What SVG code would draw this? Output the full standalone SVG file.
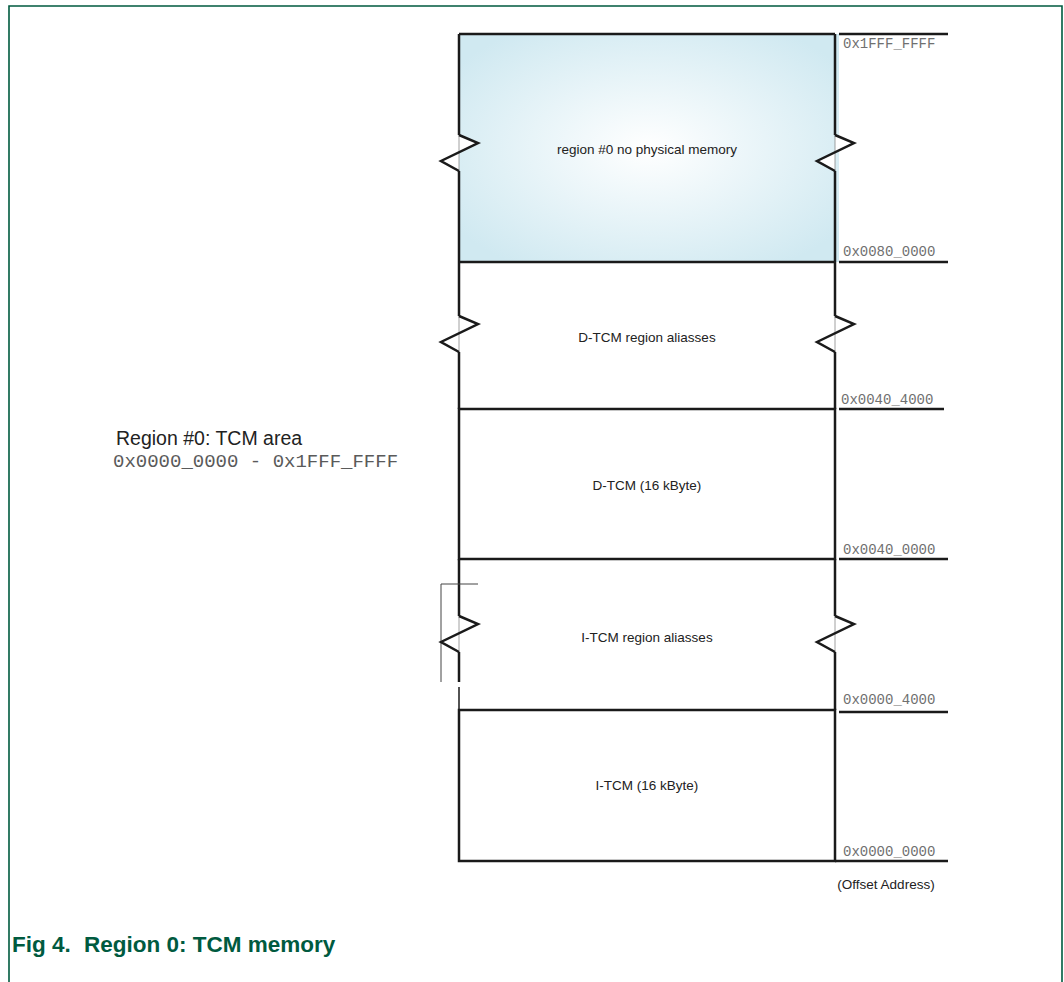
<svg xmlns="http://www.w3.org/2000/svg" xmlns:xlink="http://www.w3.org/1999/xlink" width="1064" height="982" viewBox="0 0 1064 982">
  <style>
    .edge { stroke: #1a1a1a; stroke-width: 2.5; fill: none; }
    .tick { stroke: #1a1a1a; stroke-width: 2.5; fill: none; }
    .thin { stroke: #444; stroke-width: 1; fill: none; }
    .frame { stroke: #005a3f; stroke-width: 1.6; fill: none; }
    .lbl { font-family: "Liberation Sans", Arial, sans-serif; font-size: 13.5px; fill: #222; text-anchor: middle; }
    .addr { font-family: "Liberation Mono", "Courier New", monospace; font-size: 14px; fill: #707070; }
    .title { font-family: "Liberation Sans", Arial, sans-serif; font-size: 22.5px; font-weight: bold; fill: #005a3f; }
  </style>
  <defs>
    <radialGradient id="haze" cx="0.5" cy="0.5" r="0.62">
      <stop offset="0" stop-color="#ffffff"/>
      <stop offset="1" stop-color="#d0e9f1"/>
    </radialGradient>
    <!-- break mark drawn across a vertical edge -->
    <g id="brk">
      <path d="M0,0 L19,8 L-18,26 L0,36 Z" fill="#ffffff" stroke="none"/>
      <line x1="0" y1="0" x2="0" y2="36" stroke="#888" stroke-width="0.8"/>
      <polyline points="0,0 19,8 -18,26 0,36" fill="none" stroke="#1a1a1a" stroke-width="2.5"/>
    </g>
  </defs>

  <rect width="1064" height="982" fill="#ffffff"/>

  <!-- figure frame -->
  <g id="frame">
    <polyline class="frame" points="9,982 9,6 1062,6 1062,982"/>
  </g>

  <!-- region #0: no physical memory -->
  <g id="region0">
    <rect x="459" y="34" width="380" height="228" fill="url(#haze)"/>
    <line class="edge" x1="459" y1="34" x2="835" y2="34"/>
    <line class="edge" x1="459" y1="34" x2="459" y2="135"/>
    <line class="edge" x1="459" y1="171" x2="459" y2="262"/>
    <line class="edge" x1="835" y1="34" x2="835" y2="135"/>
    <line class="edge" x1="835" y1="171" x2="835" y2="262"/>
    <use xlink:href="#brk" x="459" y="135"/>
    <use xlink:href="#brk" x="835" y="135"/>
    <text class="lbl" x="647" y="154">region #0 no physical memory</text>
  </g>

  <!-- D-TCM aliases -->
  <g id="dtcm-alias">
    <line class="edge" x1="459" y1="262" x2="835" y2="262"/>
    <line class="edge" x1="459" y1="262" x2="459" y2="316"/>
    <line class="edge" x1="459" y1="352" x2="459" y2="409"/>
    <line class="edge" x1="835" y1="262" x2="835" y2="316"/>
    <line class="edge" x1="835" y1="352" x2="835" y2="409"/>
    <use xlink:href="#brk" x="459" y="316"/>
    <use xlink:href="#brk" x="835" y="316"/>
    <text class="lbl" x="647" y="342">D-TCM region aliasses</text>
  </g>

  <!-- D-TCM -->
  <g id="dtcm">
    <rect class="edge" x="459" y="409" width="376" height="150"/>
    <text class="lbl" x="647" y="490">D-TCM (16 kByte)</text>
  </g>

  <!-- I-TCM aliases -->
  <g id="itcm-alias">
    <line class="edge" x1="459" y1="559" x2="459" y2="616"/>
    <line class="edge" x1="459" y1="652" x2="459" y2="682"/>
    <line class="edge" x1="459" y1="687" x2="459" y2="710" style="stroke-width:1.5"/>
    <line class="edge" x1="835" y1="559" x2="835" y2="616"/>
    <line class="edge" x1="835" y1="652" x2="835" y2="710"/>
    <polyline class="thin" points="478,584 441,584 441,682"/>
    <use xlink:href="#brk" x="459" y="616"/>
    <use xlink:href="#brk" x="835" y="616"/>
    <text class="lbl" x="647" y="642">I-TCM region aliasses</text>
  </g>

  <!-- I-TCM -->
  <g id="itcm">
    <rect class="edge" x="459" y="710" width="376" height="151"/>
    <text class="lbl" x="647" y="790">I-TCM (16 kByte)</text>
  </g>

  <!-- address ticks -->
  <g id="connectors">
    <line class="tick" x1="839" y1="34" x2="948" y2="34"/>
    <line class="tick" x1="839" y1="262" x2="948" y2="262"/>
    <line class="tick" x1="839" y1="409" x2="944" y2="409"/>
    <line class="tick" x1="839" y1="559" x2="948" y2="559"/>
    <line class="tick" x1="839" y1="712" x2="948" y2="712"/>
    <line class="tick" x1="835" y1="861" x2="948" y2="861"/>
  </g>
  <g id="addresses">
    <text class="addr" x="843" y="48">0x1FFF_FFFF</text>
    <text class="addr" x="843" y="256">0x0080_0000</text>
    <text class="addr" x="841" y="404">0x0040_4000</text>
    <text class="addr" x="843" y="554">0x0040_0000</text>
    <text class="addr" x="843" y="704">0x0000_4000</text>
    <text class="addr" x="843" y="856">0x0000_0000</text>
    <text x="886" y="889" style="font-family:'Liberation Sans',Arial,sans-serif;font-size:13.5px;fill:#222;text-anchor:middle">(Offset Address)</text>
  </g>

  <!-- area caption -->
  <g id="area-caption">
    <text x="116" y="445" style="font-family:'Liberation Sans',Arial,sans-serif;font-size:19.5px;fill:#222">Region #0: TCM area</text>
    <text x="113" y="467" style="font-family:'Liberation Mono','Courier New',monospace;font-size:19px;fill:#5a5a5a">0x0000_0000 - 0x1FFF_FFFF</text>
  </g>

  <!-- figure title -->
  <g id="title">
    <text class="title" x="12" y="952">Fig 4.</text>
    <text class="title" x="84" y="952">Region 0: TCM memory</text>
  </g>
</svg>
